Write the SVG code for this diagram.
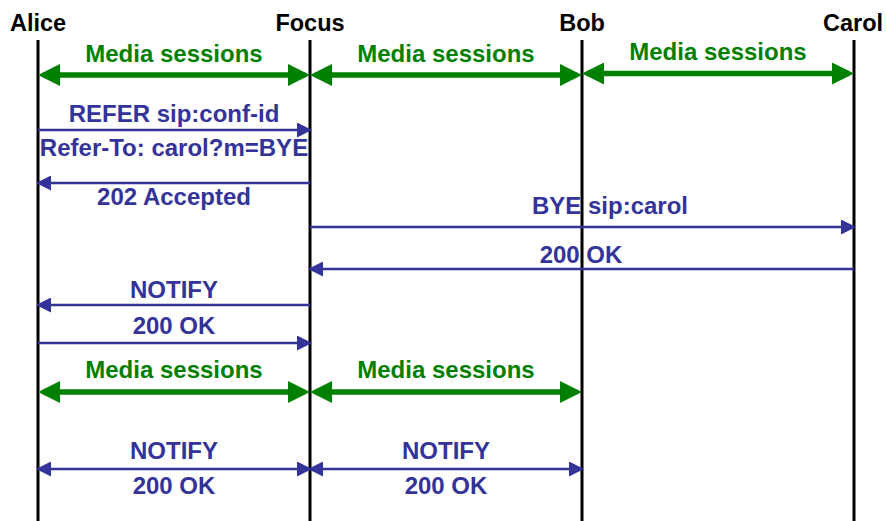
<svg xmlns="http://www.w3.org/2000/svg" width="887" height="521" viewBox="0 0 887 521">
<style>
text{font-family:"Liberation Sans",Arial,Helvetica,sans-serif;font-weight:bold;text-anchor:middle}
.name{font-size:23.5px;fill:#000}
.life{stroke:#000;stroke-width:3}
.media{font-size:24px;fill:#008000}
.msg{font-size:24px;fill:#333399}
.g{stroke:#008000;stroke-width:5.5;fill:none}
.b{stroke:#333399;stroke-width:2.3;fill:none}
</style>
<defs>
<marker id="gh" markerUnits="userSpaceOnUse" markerWidth="22" markerHeight="22" viewBox="0 0 22 22" refX="17" refY="11" orient="auto-start-reverse">
<path d="M0,0 L22,11 L0,22 z" fill="#008000"/>
</marker>
<marker id="bh" markerUnits="userSpaceOnUse" markerWidth="15" markerHeight="15" viewBox="0 0 15 15" refX="13" refY="7.5" orient="auto-start-reverse">
<path d="M0,0 L15,7.5 L0,15 z" fill="#333399"/>
</marker>
</defs>
<rect width="887" height="521" fill="#fff"/>
<g id="alice"><text class="name" x="38" y="31">Alice</text><line class="life" x1="38" y1="40" x2="38" y2="521"/></g>
<g id="focus"><text class="name" x="310" y="31">Focus</text><line class="life" x1="310" y1="40" x2="310" y2="521"/></g>
<g id="bob"><text class="name" x="582" y="31">Bob</text><line class="life" x1="582" y1="40" x2="582" y2="521"/></g>
<g id="carol"><text class="name" x="853" y="31">Carol</text><line class="life" x1="854" y1="40" x2="854" y2="521"/></g>
<g id="connectors">
<line class="g" x1="43" y1="75" x2="305" y2="75" marker-start="url(#gh)" marker-end="url(#gh)"/>
<line class="g" x1="315" y1="75" x2="577" y2="75" marker-start="url(#gh)" marker-end="url(#gh)"/>
<line class="g" x1="587" y1="73.5" x2="849" y2="73.5" marker-start="url(#gh)" marker-end="url(#gh)"/>
<line class="g" x1="43" y1="392" x2="305" y2="392" marker-start="url(#gh)" marker-end="url(#gh)"/>
<line class="g" x1="315" y1="392" x2="577" y2="392" marker-start="url(#gh)" marker-end="url(#gh)"/>
<line class="b" x1="38" y1="130" x2="310" y2="130" marker-end="url(#bh)"/>
<line class="b" x1="310" y1="183" x2="38" y2="183" marker-end="url(#bh)"/>
<line class="b" x1="310" y1="227" x2="854" y2="227" marker-end="url(#bh)"/>
<line class="b" x1="854" y1="269" x2="310" y2="269" marker-end="url(#bh)"/>
<line class="b" x1="310" y1="305" x2="38" y2="305" marker-end="url(#bh)"/>
<line class="b" x1="38" y1="343" x2="310" y2="343" marker-end="url(#bh)"/>
<line class="b" x1="38" y1="469" x2="310" y2="469" marker-start="url(#bh)" marker-end="url(#bh)"/>
<line class="b" x1="310" y1="469" x2="582" y2="469" marker-start="url(#bh)" marker-end="url(#bh)"/>
</g>
<g id="labels">
<text class="media" x="174" y="62">Media sessions</text>
<text class="media" x="446" y="62">Media sessions</text>
<text class="media" x="718" y="60">Media sessions</text>
<text class="msg" x="174" y="122">REFER sip:conf-id</text>
<text class="msg" x="174" y="156">Refer-To: carol?m=BYE</text>
<text class="msg" x="174" y="205">202 Accepted</text>
<text class="msg" x="610" y="214">BYE sip:carol</text>
<text class="msg" x="581" y="263">200 OK</text>
<text class="msg" x="174" y="298">NOTIFY</text>
<text class="msg" x="174" y="334">200 OK</text>
<text class="media" x="174" y="378">Media sessions</text>
<text class="media" x="446" y="378">Media sessions</text>
<text class="msg" x="174" y="459">NOTIFY</text>
<text class="msg" x="446" y="459">NOTIFY</text>
<text class="msg" x="174" y="494">200 OK</text>
<text class="msg" x="446" y="494">200 OK</text>
</g>
</svg>
